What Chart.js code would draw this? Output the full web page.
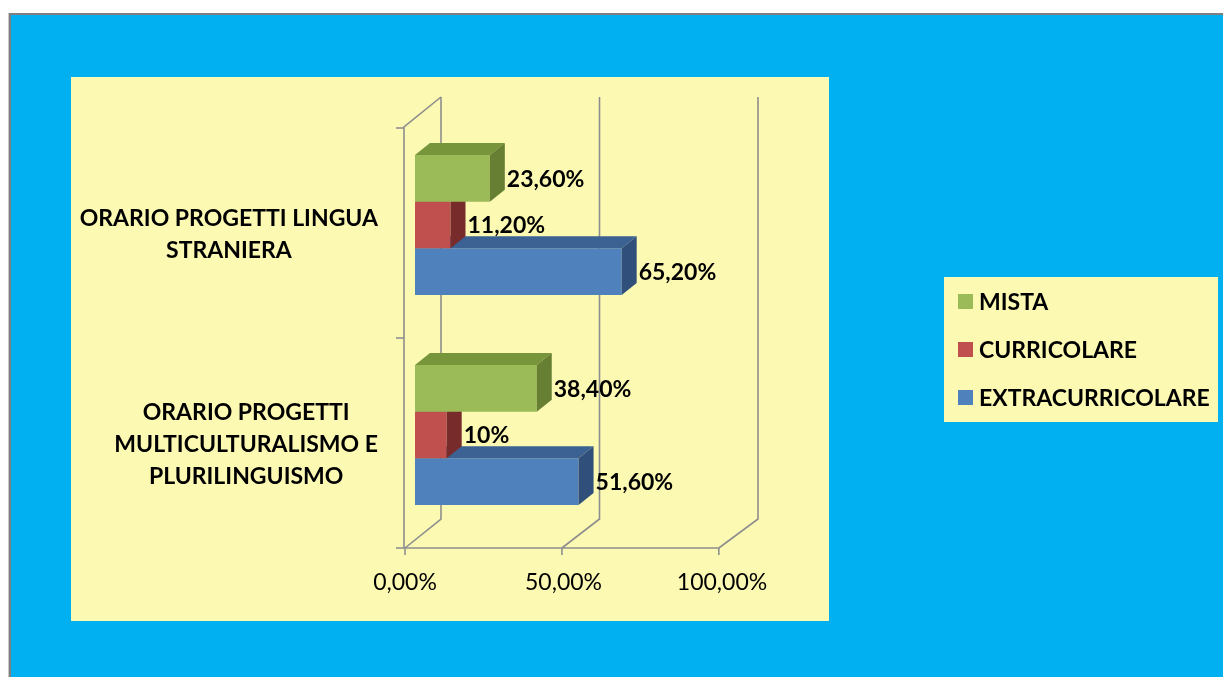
<!DOCTYPE html>
<html><head><meta charset="utf-8">
<script src="https://cdn.jsdelivr.net/npm/chart.js@4.4.0/dist/chart.umd.min.js"></script>
<style>html,body{margin:0;padding:0;background:#fff;overflow:hidden;} canvas{display:block;}</style>
</head><body>
<canvas id="c" width="1223" height="677"></canvas>
<script>
const categories = [
  ['ORARIO PROGETTI LINGUA', 'STRANIERA'],
  ['ORARIO PROGETTI', 'MULTICULTURALISMO E', 'PLURILINGUISMO']
];
const seriesNames = ['MISTA', 'CURRICOLARE', 'EXTRACURRICOLARE'];
const mista = [23.6, 38.4];
const curricolare = [11.2, 10];
const extracurricolare = [65.2, 51.6];
const xTickValues = [0, 50, 100];
const xTickLabels = ['0,00%', '50,00%', '100,00%'];

const FONT = 'Lato, "Open Sans", "DejaVu Sans", sans-serif';
const faces = [
  {front: '#9BBB59', top: '#77963B', side: '#677F33'},
  {front: '#C0504D', top: '#973A38', side: '#772C2B'},
  {front: '#4F81BD', top: '#3C6293', side: '#304F7A'}
];
const DEPTH = {dx: 15, dy: -12};
const FRONT = {dx: -10, dy: 8};
const BACK = {dx: 26, dy: -21};
const GRID = '#8E8E8E';

function fmt(v) {
  return Number.isInteger(v) ? v + '%' : v.toFixed(2).replace('.', ',') + '%';
}

const scene = {
  id: 'scene',
  beforeDraw(chart) {
    const ctx = chart.ctx, W = chart.width, H = chart.height;
    ctx.save();
    ctx.fillStyle = '#ffffff'; ctx.fillRect(0, 0, W, H);
    ctx.fillStyle = '#C8C8C8'; ctx.fillRect(8, 13, W - 8, H - 13);
    ctx.fillStyle = '#7F7F7F'; ctx.fillRect(9, 13, W - 9, H - 13);
    ctx.fillStyle = '#00B0F0'; ctx.fillRect(11, 15, W - 11, H - 15);
    ctx.fillStyle = '#FCF9B3';
    ctx.fillRect(71, 77, 758, 544);
    ctx.fillRect(944, 277, 274, 145);
    ctx.restore();
  },
  beforeDatasetsDraw(chart) {
    const ctx = chart.ctx, xs = chart.scales.x, a = chart.chartArea;
    ctx.save();
    ctx.strokeStyle = GRID; ctx.lineWidth = 1.6; ctx.lineCap = 'butt';
    const fy = a.bottom + FRONT.dy, by = a.bottom + BACK.dy;
    const fTop = a.top + FRONT.dy - 1, bTop = a.top + BACK.dy - 2;
    const x0 = xs.getPixelForValue(0);
    ctx.beginPath();
    ctx.moveTo(x0 + FRONT.dx - 1, fy);
    ctx.lineTo(x0 + FRONT.dx - 1, fTop);
    ctx.lineTo(x0 + BACK.dx, bTop);
    ctx.stroke();
    xTickValues.forEach(v => {
      const px = xs.getPixelForValue(v);
      const fx = x0 + FRONT.dx + (px - x0) * 0.99;
      ctx.beginPath();
      ctx.moveTo(px + BACK.dx, bTop);
      ctx.lineTo(px + BACK.dx, by);
      ctx.lineTo(fx, fy);
      ctx.stroke();
      ctx.beginPath();
      ctx.moveTo(fx, fy); ctx.lineTo(fx, fy + 7); ctx.stroke();
    });
    ctx.beginPath();
    ctx.moveTo(x0 + FRONT.dx - 1, fy);
    ctx.lineTo(x0 + FRONT.dx + (xs.getPixelForValue(100) - x0) * 0.99, fy);
    ctx.stroke();
    const n = categories.length;
    for (let i = 0; i <= n; i++) {
      const y = a.top + (a.bottom - a.top) * i / n + FRONT.dy;
      ctx.beginPath();
      ctx.moveTo(x0 + FRONT.dx - 9, y); ctx.lineTo(x0 + FRONT.dx - 1, y); ctx.stroke();
    }
    ctx.restore();
  },
  afterDatasetDraw(chart, args) {
    const ctx = chart.ctx, meta = args.meta, f = faces[args.index];
    ctx.save();
    meta.data.forEach(el => {
      const p = el.getProps(['x', 'y', 'base', 'height'], true);
      const t = p.y - p.height / 2, b = p.y + p.height / 2;
      ctx.fillStyle = f.top;
      ctx.beginPath();
      ctx.moveTo(p.base, t); ctx.lineTo(p.base + DEPTH.dx, t + DEPTH.dy);
      ctx.lineTo(p.x + DEPTH.dx, t + DEPTH.dy); ctx.lineTo(p.x, t);
      ctx.closePath(); ctx.fill();
      ctx.fillStyle = f.side;
      ctx.beginPath();
      ctx.moveTo(p.x, t); ctx.lineTo(p.x + DEPTH.dx, t + DEPTH.dy);
      ctx.lineTo(p.x + DEPTH.dx, b + DEPTH.dy); ctx.lineTo(p.x, b);
      ctx.closePath(); ctx.fill();
    });
    ctx.restore();
  },
  afterDatasetsDraw(chart) {
    const ctx = chart.ctx;
    ctx.save();
    ctx.font = 'bold 23px ' + FONT;
    ctx.fillStyle = '#000';
    ctx.textAlign = 'left'; ctx.textBaseline = 'middle';
    chart.data.datasets.forEach((ds, i) => {
      chart.getDatasetMeta(i).data.forEach((el, j) => {
        const p = el.getProps(['x', 'y'], true);
        ctx.fillText(fmt(ds.data[j]), p.x + DEPTH.dx + 2, p.y + 1);
      });
    });
    ctx.restore();
  },
  afterDraw(chart) {
    const ctx = chart.ctx, ys = chart.scales.y;
    ctx.save();
    ctx.font = 'bold 23px ' + FONT;
    ctx.fillStyle = '#000';
    ctx.textAlign = 'center'; ctx.textBaseline = 'middle';
    const right = 378, lh = 32;
    categories.forEach((lines, i) => {
      const w = Math.max(...lines.map(l => ctx.measureText(l).width));
      const cx = right - w / 2;
      const cy = ys.getPixelForValue(i) + FRONT.dy + 2;
      lines.forEach((l, k) => {
        ctx.fillText(l, cx, cy + (k - (lines.length - 1) / 2) * lh);
      });
    });
    ctx.textAlign = 'left';
    chart.data.datasets.forEach((ds, i) => {
      const cy = 301.5 + i * 48;
      ctx.fillStyle = ds.backgroundColor;
      ctx.fillRect(958, cy - 7.5, 15, 15);
      ctx.fillStyle = '#000';
      ctx.fillText(ds.label, 979, cy + 1);
    });
    ctx.restore();
  }
};

new Chart(document.getElementById('c'), {
  type: 'bar',
  data: {
    labels: categories,
    datasets: [
      {label: seriesNames[0], data: mista, backgroundColor: faces[0].front},
      {label: seriesNames[1], data: curricolare, backgroundColor: faces[1].front},
      {label: seriesNames[2], data: extracurricolare, backgroundColor: faces[2].front}
    ]
  },
  options: {
    indexAxis: 'y',
    responsive: false,
    animation: false,
    devicePixelRatio: 1,
    layout: {padding: {top: 120, right: 491, left: 0, bottom: 0}},
    datasets: {bar: {categoryPercentage: 0.667, barPercentage: 1.0, borderWidth: 0}},
    plugins: {legend: {display: false}, tooltip: {enabled: false}},
    scales: {
      x: {
        min: 0, max: 100,
        afterBuildTicks: s => { s.ticks = xTickValues.map(v => ({value: v})); },
        afterFit: s => { s.height = 137; },
        grid: {display: false, drawTicks: false},
        border: {display: false},
        ticks: {
          callback: (v) => xTickLabels[xTickValues.indexOf(v)],
          font: {family: FONT, size: 23},
          color: '#000',
          labelOffset: -10,
          padding: 29,
          maxRotation: 0, autoSkip: false
        }
      },
      y: {
        afterFit: s => { s.width = 415; },
        grid: {display: false},
        border: {display: false},
        ticks: {display: false}
      }
    }
  },
  plugins: [scene]
});
</script>
</body></html>
